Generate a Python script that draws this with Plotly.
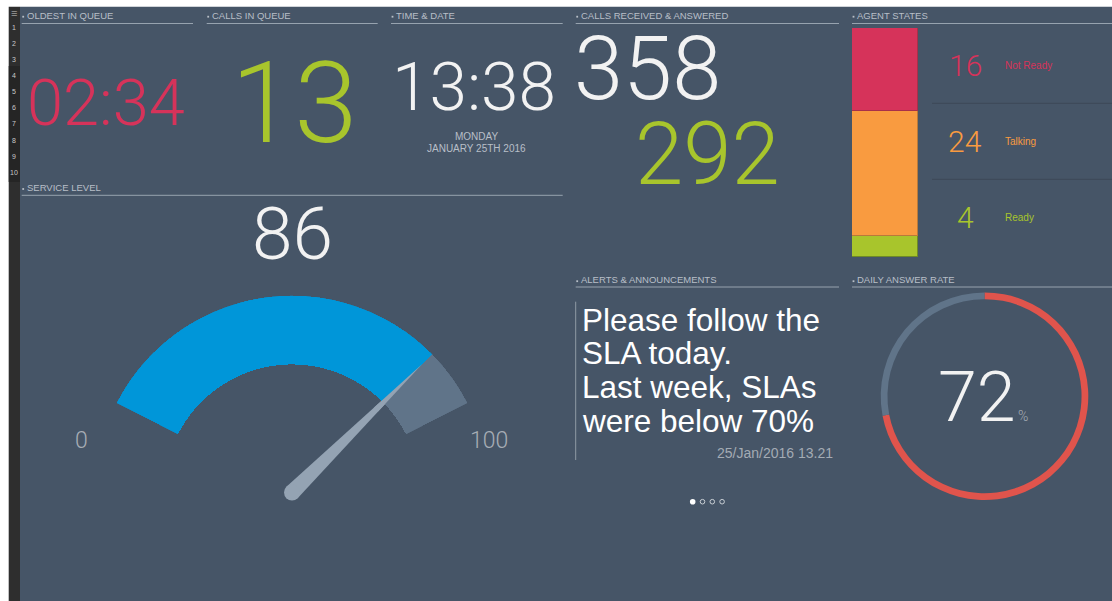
import numpy as np
import plotly.graph_objects as go

# The page body margin is removed (post_script), so the figure fills the 1112x601 window.
OX, OY = 0, 0
WIN_W, WIN_H = 1112, 601
FW, FH = WIN_W - OX, WIN_H - OY

# ---------------- data ----------------
oldest_in_queue = "02:34"
calls_in_queue = 13
clock_time = "13:38"
clock_day = "MONDAY"
clock_date = "JANUARY 25TH 2016"
calls_received = 358
calls_answered = 292
service_level = 86
service_range = [0, 100]
agent_states = ["Not Ready", "Talking", "Ready"]
agent_counts = [16, 24, 4]
alert_lines = ["Please follow the", "SLA today.", "Last week, SLAs", "were below 70%"]
alert_stamp = "25/Jan/2016 13.21"
answer_rate = 72
row_numbers = [str(i) for i in range(1, 11)]

# ---------------- styles ----------------
BG = "#465567"
HEAD = "#b8bfc7"
RULE = "#97a3af"
WHITE = "#f2f2f2"
RED = "#d6335a"
GREEN = "#a8c52c"
ORANGE = "#f99b40"
BLUE = "#0096d9"
SLATE = "#607489"
NEEDLE = "#94a3b3"
DONUT_RED = "#e0544c"
NUM_FONT = "Roboto"
TXT_FONT = "Liberation Sans, Arial, sans-serif"
agent_colors = {"Not Ready": RED, "Talking": ORANGE, "Ready": GREEN}
agent_edges = {"Not Ready": "#a8304a", "Talking": "#b87a3a", "Ready": "#6f8a26"}


def fx(px):
    """window pixel x -> paper fraction"""
    return (px - OX) / FW


def fy(py):
    """window pixel y (down) -> paper fraction (up)"""
    return (WIN_H - py) / FH


fig = go.Figure()
shapes = []
ann = []


def text(x, y, s, size, color, family=TXT_FONT, xanchor="center", weight=None,
         yanchor="middle", box_h=None):
    f = dict(size=size, color=color, family=family)
    if weight is not None:
        f["weight"] = weight
    a = dict(x=x, y=y, xref="x", yref="y", text=s, showarrow=False,
             xanchor=xanchor, yanchor=yanchor, font=f, borderpad=0)
    if box_h is not None:
        a["height"] = box_h
        a["valign"] = "middle"
    ann.append(a)


def rect(x0, y0, x1, y1, color, layer="below"):
    shapes.append(dict(type="rect", xref="x", yref="y", x0=x0, y0=y0, x1=x1, y1=y1,
                       fillcolor=color, line=dict(width=0), layer=layer))


def line(x0, y0, x1, y1, color, width=1, layer="below"):
    shapes.append(dict(type="line", xref="x", yref="y", x0=x0, y0=y0, x1=x1, y1=y1,
                       line=dict(color=color, width=width), layer=layer))


# ---------------- background ----------------
rect(20, 6.7, WIN_W, WIN_H, BG)
rect(8.7, 6.7, 20, WIN_H, "#2e2e2e")
rect(8.7, 66, 20, 182, "#252525")
text(14.3, 12.8, "≡", 11, "#9a9a9a")
for i, n in enumerate(row_numbers):
    text(13.8, 27.3 + i * 16.1, n, 7, "#c9c9c9")

# ---------------- panel headers ----------------
headers = [
    (21.7, 193, 15, 23.5, "OLDEST IN QUEUE"),
    (206.7, 377.7, 15, 23.5, "CALLS IN QUEUE"),
    (391, 562.7, 15, 23.5, "TIME & DATE"),
    (575.7, 839, 15, 23.5, "CALLS RECEIVED & ANSWERED"),
    (852, WIN_W, 15, 23.5, "AGENT STATES"),
    (21.7, 562.7, 187.3, 195.3, "SERVICE LEVEL"),
    (575.7, 839, 279.5, 287, "ALERTS & ANNOUNCEMENTS"),
    (852, WIN_W, 279.5, 287, "DAILY ANSWER RATE"),
]
for x0, x1, yt, yl, t in headers:
    rect(x0 + 0.6, yt + 0.8, x0 + 2.4, yt + 2.6, HEAD)
    text(x0 + 4.3, yt, t, 9.5, HEAD, xanchor="left")
    line(x0, yl, x1, yl, RULE)

# ---------------- big numbers ----------------
text(106, 103, oldest_in_queue, 65, RED, NUM_FONT, weight=300)
text(293.5, 102.5, str(calls_in_queue), 114, GREEN, NUM_FONT, weight=300)
text(473.5, 86, clock_time, 67.5, WHITE, NUM_FONT, weight=300)
text(476.7, 136.7, clock_day, 10, HEAD)
text(476.7, 148.3, clock_date, 10, HEAD)
text(647.5, 68.5, str(calls_received), 88.5, WHITE, NUM_FONT, weight=300, box_h=74)
text(707, 154, str(calls_answered), 87, GREEN, NUM_FONT, weight=300, box_h=74)

# ---------------- agent states (stacked bar) ----------------
total_agents = sum(agent_counts)
for state, cnt in reversed(list(zip(agent_states, agent_counts))):
    fig.add_bar(x=["agents"], y=[cnt], name=state, width=1,
                marker=dict(color=agent_colors[state],
                            line=dict(color=agent_edges[state], width=1)),
                xaxis="x2", yaxis="y2", hoverinfo="skip", showlegend=False)
row_y = [65.8, 141.6, 217.6]
for (state, cnt), yy in zip(zip(agent_states, agent_counts), row_y):
    text(965, yy, str(cnt), 30, agent_colors[state], NUM_FONT, weight=300)
    text(1004, yy, state, 10, agent_colors[state], xanchor="left")
line(932, 103.3, WIN_W, 103.3, "#3c4858")
line(932, 179.3, WIN_W, 179.3, "#3c4858")

# ---------------- service level gauge ----------------
gc = (292.0, 492.5)
gR = 197.0
g_hole = 0.65
g_start = 153.0
g_sweep = 126.0
dpu = g_sweep / (service_range[1] - service_range[0])
half_w = gR * np.cos(np.radians(180 - g_start))
val_deg = (service_level - service_range[0]) * dpu
full_deg = (service_range[1] - service_range[0]) * dpu

fig.add_barpolar(r=[1 - g_hole], base=[g_hole], theta=[val_deg / 2], width=[val_deg],
                 marker=dict(color=BLUE, line=dict(width=0)), subplot="polar",
                 hoverinfo="skip", showlegend=False)
fig.add_barpolar(r=[1 - g_hole], base=[g_hole], theta=[(val_deg + full_deg) / 2],
                 width=[full_deg - val_deg],
                 marker=dict(color=SLATE, line=dict(width=0)), subplot="polar",
                 hoverinfo="skip", showlegend=False)

# needle (body on cartesian axes, tip overlaid on gauge)
needle_len = 183.0
needle_hw = 8.0
ang = np.radians(g_start - val_deg)
d = np.array([np.cos(ang), -np.sin(ang)])
p = np.array([np.sin(ang), np.cos(ang)])
C = np.array(gc)
pts = [C + needle_hw * p, C + needle_len * d, C - needle_hw * p, C + needle_hw * p]
fig.add_scatter(x=[q[0] for q in pts], y=[q[1] for q in pts], mode="lines", fill="toself",
                fillcolor=NEEDLE, line=dict(width=0, color=NEEDLE), hoverinfo="skip",
                showlegend=False)
fig.add_scatter(x=[gc[0]], y=[gc[1]], mode="markers",
                marker=dict(size=2 * needle_hw, color=NEEDLE, line=dict(width=0)),
                hoverinfo="skip", showlegend=False)
r0 = 0.6
hw0 = needle_hw * (1 - r0 * gR / needle_len)
dth = np.degrees(np.arctan(hw0 / (r0 * gR)))
fig.add_scatterpolar(r=[r0, needle_len / gR, r0, r0],
                     theta=[val_deg - dth, val_deg, val_deg + dth, val_deg - dth],
                     mode="lines", fill="toself", fillcolor=NEEDLE,
                     line=dict(width=0, color=NEEDLE),
                     subplot="polar", hoverinfo="skip", showlegend=False)

text(gc[0], 234, str(service_level), 73, WHITE, NUM_FONT, weight=300)
text(81.7, 440, str(service_range[0]), 23, "#a6adb5", NUM_FONT, weight=300)
text(488.7, 440, str(service_range[1]), 23, "#a6adb5", NUM_FONT, weight=300)

# ---------------- alerts ----------------
line(575.7, 301.7, 575.7, 460, "#8f9aa6")
for i, s in enumerate(alert_lines):
    text(581.0, 319.5 + i * 33.9, s, 31.5, "#ffffff", xanchor="left")
text(834, 453, alert_stamp, 14, "#a3abb4", xanchor="right")
for i, cx in enumerate([692.7, 702.5, 712.3, 722.1]):
    if i == 0:
        shapes.append(dict(type="circle", xref="x", yref="y", x0=cx - 2.8, x1=cx + 2.8,
                           y0=501.7 - 2.8, y1=501.7 + 2.8, fillcolor="#ffffff",
                           line=dict(width=0), layer="above"))
    else:
        shapes.append(dict(type="circle", xref="x", yref="y", x0=cx - 2.3, x1=cx + 2.3,
                           y0=501.7 - 2.3, y1=501.7 + 2.3, fillcolor="rgba(0,0,0,0)",
                           line=dict(width=1, color="#c8ced4"), layer="above"))

# ---------------- daily answer rate donut ----------------
dc = (984.5, 396.2)
dR = 103.8
fig.add_pie(values=[answer_rate, 100 - answer_rate], marker=dict(colors=[DONUT_RED, SLATE],
            line=dict(width=0)), hole=0.935, sort=False, direction="clockwise", rotation=0,
            textinfo="none", hoverinfo="skip", showlegend=False,
            domain=dict(x=[fx(dc[0] - dR), fx(dc[0] + dR)],
                        y=[fy(dc[1] + dR), fy(dc[1] - dR)]))
text(976.7, 396.7, str(answer_rate), 70, WHITE, NUM_FONT, weight=300)
text(1023, 416, "%", 14, "#a6adb5", NUM_FONT, weight=300)

fig.update_layout(
    width=FW, height=FH, margin=dict(l=0, r=0, t=0, b=0, pad=0),
    paper_bgcolor="white", plot_bgcolor="rgba(0,0,0,0)", showlegend=False,
    barmode="stack", bargap=0,
    xaxis=dict(range=[OX, WIN_W], domain=[0, 1], visible=False, fixedrange=True),
    yaxis=dict(range=[WIN_H, OY], domain=[0, 1], visible=False, fixedrange=True),
    xaxis2=dict(domain=[fx(852), fx(918)], anchor="y2", visible=False, range=[-0.5, 0.5]),
    yaxis2=dict(domain=[fy(257), fy(28)], anchor="x2", visible=False,
                range=[0, total_agents]),
    polar=dict(
        domain=dict(x=[fx(gc[0] - half_w), fx(gc[0] + half_w)],
                    y=[fy(gc[1]), fy(gc[1] - gR)]),
        sector=[180 - g_start, g_start], hole=0, bgcolor="rgba(0,0,0,0)",
        radialaxis=dict(visible=False, range=[0, 1]),
        angularaxis=dict(visible=False, direction="clockwise", rotation=g_start),
    ),
    shapes=shapes, annotations=ann,
)

page_js = (
    "document.body.style.margin='0';"
    "document.body.style.overflow='hidden';"
    "document.documentElement.style.background="
    "'linear-gradient(to bottom, #ffffff 0px, #ffffff 7px, " + BG + " 7px) right top / 16px 100% no-repeat, #ffffff';"
)
fig.write_html("out.html", config={"displayModeBar": False, "responsive": False},
               post_script=page_js)
